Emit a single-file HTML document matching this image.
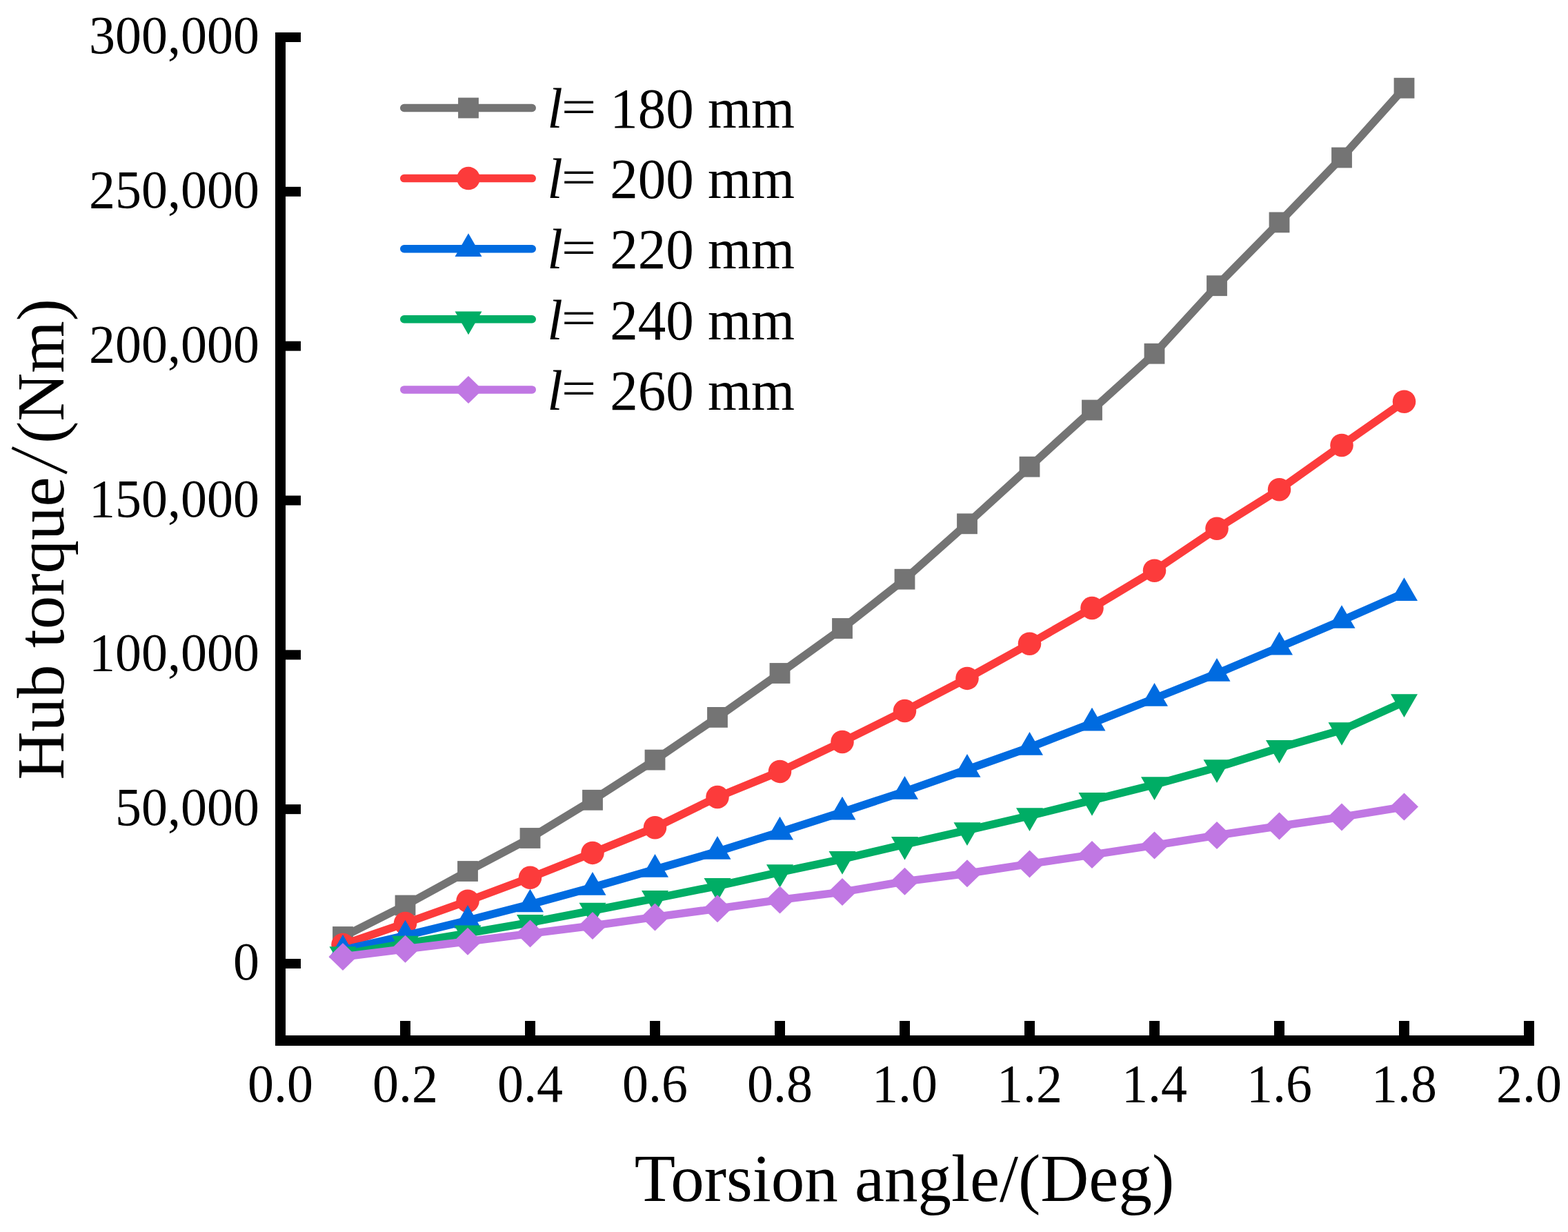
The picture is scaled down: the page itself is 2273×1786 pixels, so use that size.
<!DOCTYPE html>
<html><head><meta charset="utf-8"><title>Hub torque vs torsion angle</title>
<style>
html,body{margin:0;padding:0;background:#fff;}
body{width:2273px;height:1786px;overflow:hidden;}
svg{display:block;}
text{font-family:"Liberation Serif","Times New Roman",serif;fill:#000;}
.tk{font-size:76px;}
.lg{font-size:81px;}
.ttl{font-size:97px;}
</style></head>
<body>
<svg width="2273" height="1786" viewBox="0 0 2273 1786">
<rect width="2273" height="1786" fill="#fff"/>
<polyline points="497.00,1358.00 587.50,1312.50 678.00,1263.00 768.50,1215.00 859.00,1159.80 949.50,1101.60 1040.00,1039.90 1130.50,976.00 1221.00,911.00 1311.50,839.70 1402.00,759.30 1492.50,676.70 1583.00,594.50 1673.50,512.70 1764.00,414.20 1854.50,322.40 1945.00,228.50 2035.50,127.70" fill="none" stroke="#747474" stroke-width="11.5" stroke-linejoin="miter" stroke-linecap="butt"/>
<rect x="482.10" y="1343.10" width="29.8" height="29.8" fill="#747474"/>
<rect x="572.60" y="1297.60" width="29.8" height="29.8" fill="#747474"/>
<rect x="663.10" y="1248.10" width="29.8" height="29.8" fill="#747474"/>
<rect x="753.60" y="1200.10" width="29.8" height="29.8" fill="#747474"/>
<rect x="844.10" y="1144.90" width="29.8" height="29.8" fill="#747474"/>
<rect x="934.60" y="1086.70" width="29.8" height="29.8" fill="#747474"/>
<rect x="1025.10" y="1025.00" width="29.8" height="29.8" fill="#747474"/>
<rect x="1115.60" y="961.10" width="29.8" height="29.8" fill="#747474"/>
<rect x="1206.10" y="896.10" width="29.8" height="29.8" fill="#747474"/>
<rect x="1296.60" y="824.80" width="29.8" height="29.8" fill="#747474"/>
<rect x="1387.10" y="744.40" width="29.8" height="29.8" fill="#747474"/>
<rect x="1477.60" y="661.80" width="29.8" height="29.8" fill="#747474"/>
<rect x="1568.10" y="579.60" width="29.8" height="29.8" fill="#747474"/>
<rect x="1658.60" y="497.80" width="29.8" height="29.8" fill="#747474"/>
<rect x="1749.10" y="399.30" width="29.8" height="29.8" fill="#747474"/>
<rect x="1839.60" y="307.50" width="29.8" height="29.8" fill="#747474"/>
<rect x="1930.10" y="213.60" width="29.8" height="29.8" fill="#747474"/>
<rect x="2020.60" y="112.80" width="29.8" height="29.8" fill="#747474"/>
<polyline points="497.00,1369.40 587.50,1338.40 678.00,1306.20 768.50,1272.30 859.00,1236.40 949.50,1199.70 1040.00,1155.50 1130.50,1118.40 1221.00,1075.40 1311.50,1030.50 1402.00,983.40 1492.50,933.20 1583.00,881.50 1673.50,827.20 1764.00,766.30 1854.50,709.70 1945.00,645.40 2035.50,582.20" fill="none" stroke="#FC3B3B" stroke-width="11.5" stroke-linejoin="miter" stroke-linecap="butt"/>
<circle cx="497.00" cy="1369.40" r="16.75" fill="#FC3B3B"/>
<circle cx="587.50" cy="1338.40" r="16.75" fill="#FC3B3B"/>
<circle cx="678.00" cy="1306.20" r="16.75" fill="#FC3B3B"/>
<circle cx="768.50" cy="1272.30" r="16.75" fill="#FC3B3B"/>
<circle cx="859.00" cy="1236.40" r="16.75" fill="#FC3B3B"/>
<circle cx="949.50" cy="1199.70" r="16.75" fill="#FC3B3B"/>
<circle cx="1040.00" cy="1155.50" r="16.75" fill="#FC3B3B"/>
<circle cx="1130.50" cy="1118.40" r="16.75" fill="#FC3B3B"/>
<circle cx="1221.00" cy="1075.40" r="16.75" fill="#FC3B3B"/>
<circle cx="1311.50" cy="1030.50" r="16.75" fill="#FC3B3B"/>
<circle cx="1402.00" cy="983.40" r="16.75" fill="#FC3B3B"/>
<circle cx="1492.50" cy="933.20" r="16.75" fill="#FC3B3B"/>
<circle cx="1583.00" cy="881.50" r="16.75" fill="#FC3B3B"/>
<circle cx="1673.50" cy="827.20" r="16.75" fill="#FC3B3B"/>
<circle cx="1764.00" cy="766.30" r="16.75" fill="#FC3B3B"/>
<circle cx="1854.50" cy="709.70" r="16.75" fill="#FC3B3B"/>
<circle cx="1945.00" cy="645.40" r="16.75" fill="#FC3B3B"/>
<circle cx="2035.50" cy="582.20" r="16.75" fill="#FC3B3B"/>
<polyline points="497.00,1377.30 587.50,1356.30 678.00,1334.40 768.50,1311.10 859.00,1286.40 949.50,1260.40 1040.00,1234.40 1130.50,1206.20 1221.00,1177.20 1311.50,1147.40 1402.00,1115.50 1492.50,1083.50 1583.00,1048.30 1673.50,1012.50 1764.00,976.40 1854.50,938.30 1945.00,899.60 2035.50,859.70" fill="none" stroke="#006BE0" stroke-width="11.5" stroke-linejoin="miter" stroke-linecap="butt"/>
<polygon points="497.00,1354.83 516.50,1388.53 477.50,1388.53" fill="#006BE0"/>
<polygon points="587.50,1333.83 607.00,1367.53 568.00,1367.53" fill="#006BE0"/>
<polygon points="678.00,1311.93 697.50,1345.63 658.50,1345.63" fill="#006BE0"/>
<polygon points="768.50,1288.63 788.00,1322.33 749.00,1322.33" fill="#006BE0"/>
<polygon points="859.00,1263.93 878.50,1297.63 839.50,1297.63" fill="#006BE0"/>
<polygon points="949.50,1237.93 969.00,1271.63 930.00,1271.63" fill="#006BE0"/>
<polygon points="1040.00,1211.93 1059.50,1245.63 1020.50,1245.63" fill="#006BE0"/>
<polygon points="1130.50,1183.73 1150.00,1217.43 1111.00,1217.43" fill="#006BE0"/>
<polygon points="1221.00,1154.73 1240.50,1188.43 1201.50,1188.43" fill="#006BE0"/>
<polygon points="1311.50,1124.93 1331.00,1158.63 1292.00,1158.63" fill="#006BE0"/>
<polygon points="1402.00,1093.03 1421.50,1126.73 1382.50,1126.73" fill="#006BE0"/>
<polygon points="1492.50,1061.03 1512.00,1094.73 1473.00,1094.73" fill="#006BE0"/>
<polygon points="1583.00,1025.83 1602.50,1059.53 1563.50,1059.53" fill="#006BE0"/>
<polygon points="1673.50,990.03 1693.00,1023.73 1654.00,1023.73" fill="#006BE0"/>
<polygon points="1764.00,953.93 1783.50,987.63 1744.50,987.63" fill="#006BE0"/>
<polygon points="1854.50,915.83 1874.00,949.53 1835.00,949.53" fill="#006BE0"/>
<polygon points="1945.00,877.13 1964.50,910.83 1925.50,910.83" fill="#006BE0"/>
<polygon points="2035.50,837.23 2055.00,870.93 2016.00,870.93" fill="#006BE0"/>
<polyline points="497.00,1383.40 587.50,1368.00 678.00,1352.80 768.50,1337.30 859.00,1320.00 949.50,1302.30 1040.00,1284.30 1130.50,1264.40 1221.00,1245.30 1311.50,1224.20 1402.00,1203.60 1492.50,1182.60 1583.00,1160.20 1673.50,1137.50 1764.00,1112.50 1854.50,1084.20 1945.00,1058.40 2035.50,1017.50" fill="none" stroke="#00AD65" stroke-width="11.5" stroke-linejoin="miter" stroke-linecap="butt"/>
<polygon points="497.00,1405.87 516.50,1372.17 477.50,1372.17" fill="#00AD65"/>
<polygon points="587.50,1390.47 607.00,1356.77 568.00,1356.77" fill="#00AD65"/>
<polygon points="678.00,1375.27 697.50,1341.57 658.50,1341.57" fill="#00AD65"/>
<polygon points="768.50,1359.77 788.00,1326.07 749.00,1326.07" fill="#00AD65"/>
<polygon points="859.00,1342.47 878.50,1308.77 839.50,1308.77" fill="#00AD65"/>
<polygon points="949.50,1324.77 969.00,1291.07 930.00,1291.07" fill="#00AD65"/>
<polygon points="1040.00,1306.77 1059.50,1273.07 1020.50,1273.07" fill="#00AD65"/>
<polygon points="1130.50,1286.87 1150.00,1253.17 1111.00,1253.17" fill="#00AD65"/>
<polygon points="1221.00,1267.77 1240.50,1234.07 1201.50,1234.07" fill="#00AD65"/>
<polygon points="1311.50,1246.67 1331.00,1212.97 1292.00,1212.97" fill="#00AD65"/>
<polygon points="1402.00,1226.07 1421.50,1192.37 1382.50,1192.37" fill="#00AD65"/>
<polygon points="1492.50,1205.07 1512.00,1171.37 1473.00,1171.37" fill="#00AD65"/>
<polygon points="1583.00,1182.67 1602.50,1148.97 1563.50,1148.97" fill="#00AD65"/>
<polygon points="1673.50,1159.97 1693.00,1126.27 1654.00,1126.27" fill="#00AD65"/>
<polygon points="1764.00,1134.97 1783.50,1101.27 1744.50,1101.27" fill="#00AD65"/>
<polygon points="1854.50,1106.67 1874.00,1072.97 1835.00,1072.97" fill="#00AD65"/>
<polygon points="1945.00,1080.87 1964.50,1047.17 1925.50,1047.17" fill="#00AD65"/>
<polygon points="2035.50,1039.97 2055.00,1006.27 2016.00,1006.27" fill="#00AD65"/>
<polyline points="497.00,1387.00 587.50,1375.70 678.00,1364.80 768.50,1353.40 859.00,1342.00 949.50,1329.40 1040.00,1317.20 1130.50,1304.40 1221.00,1293.10 1311.50,1277.80 1402.00,1266.30 1492.50,1252.40 1583.00,1239.10 1673.50,1225.40 1764.00,1211.00 1854.50,1197.50 1945.00,1184.40 2035.50,1169.60" fill="none" stroke="#C077E3" stroke-width="11.5" stroke-linejoin="miter" stroke-linecap="butt"/>
<polygon points="497.00,1367.00 517.50,1387.00 497.00,1407.00 476.50,1387.00" fill="#C077E3"/>
<polygon points="587.50,1355.70 608.00,1375.70 587.50,1395.70 567.00,1375.70" fill="#C077E3"/>
<polygon points="678.00,1344.80 698.50,1364.80 678.00,1384.80 657.50,1364.80" fill="#C077E3"/>
<polygon points="768.50,1333.40 789.00,1353.40 768.50,1373.40 748.00,1353.40" fill="#C077E3"/>
<polygon points="859.00,1322.00 879.50,1342.00 859.00,1362.00 838.50,1342.00" fill="#C077E3"/>
<polygon points="949.50,1309.40 970.00,1329.40 949.50,1349.40 929.00,1329.40" fill="#C077E3"/>
<polygon points="1040.00,1297.20 1060.50,1317.20 1040.00,1337.20 1019.50,1317.20" fill="#C077E3"/>
<polygon points="1130.50,1284.40 1151.00,1304.40 1130.50,1324.40 1110.00,1304.40" fill="#C077E3"/>
<polygon points="1221.00,1273.10 1241.50,1293.10 1221.00,1313.10 1200.50,1293.10" fill="#C077E3"/>
<polygon points="1311.50,1257.80 1332.00,1277.80 1311.50,1297.80 1291.00,1277.80" fill="#C077E3"/>
<polygon points="1402.00,1246.30 1422.50,1266.30 1402.00,1286.30 1381.50,1266.30" fill="#C077E3"/>
<polygon points="1492.50,1232.40 1513.00,1252.40 1492.50,1272.40 1472.00,1252.40" fill="#C077E3"/>
<polygon points="1583.00,1219.10 1603.50,1239.10 1583.00,1259.10 1562.50,1239.10" fill="#C077E3"/>
<polygon points="1673.50,1205.40 1694.00,1225.40 1673.50,1245.40 1653.00,1225.40" fill="#C077E3"/>
<polygon points="1764.00,1191.00 1784.50,1211.00 1764.00,1231.00 1743.50,1211.00" fill="#C077E3"/>
<polygon points="1854.50,1177.50 1875.00,1197.50 1854.50,1217.50 1834.00,1197.50" fill="#C077E3"/>
<polygon points="1945.00,1164.40 1965.50,1184.40 1945.00,1204.40 1924.50,1184.40" fill="#C077E3"/>
<polygon points="2035.50,1149.60 2056.00,1169.60 2035.50,1189.60 2015.00,1169.60" fill="#C077E3"/>
<rect x="399" y="47" width="15" height="1469" fill="#000"/>
<rect x="399" y="1501" width="1825" height="15" fill="#000"/>
<rect x="414" y="47.00" width="22" height="14" fill="#000"/>
<rect x="414" y="270.83" width="22" height="14" fill="#000"/>
<rect x="414" y="494.66" width="22" height="14" fill="#000"/>
<rect x="414" y="718.49" width="22" height="14" fill="#000"/>
<rect x="414" y="942.32" width="22" height="14" fill="#000"/>
<rect x="414" y="1166.15" width="22" height="14" fill="#000"/>
<rect x="414" y="1389.98" width="22" height="14" fill="#000"/>
<rect x="580.00" y="1480" width="15" height="21" fill="#000"/>
<rect x="761.00" y="1480" width="15" height="21" fill="#000"/>
<rect x="942.00" y="1480" width="15" height="21" fill="#000"/>
<rect x="1123.00" y="1480" width="15" height="21" fill="#000"/>
<rect x="1304.00" y="1480" width="15" height="21" fill="#000"/>
<rect x="1485.00" y="1480" width="15" height="21" fill="#000"/>
<rect x="1666.00" y="1480" width="15" height="21" fill="#000"/>
<rect x="1847.00" y="1480" width="15" height="21" fill="#000"/>
<rect x="2028.00" y="1480" width="15" height="21" fill="#000"/>
<rect x="2209.00" y="1480" width="15" height="21" fill="#000"/>
<text transform="translate(375.9,77.0) scale(1,1.033)" text-anchor="end" class="tk">300,000</text>
<text transform="translate(375.9,300.8) scale(1,1.033)" text-anchor="end" class="tk">250,000</text>
<text transform="translate(375.9,524.7) scale(1,1.033)" text-anchor="end" class="tk">200,000</text>
<text transform="translate(375.9,748.5) scale(1,1.033)" text-anchor="end" class="tk">150,000</text>
<text transform="translate(375.9,972.3) scale(1,1.033)" text-anchor="end" class="tk">100,000</text>
<text transform="translate(375.9,1196.2) scale(1,1.033)" text-anchor="end" class="tk">50,000</text>
<text transform="translate(375.9,1420.0) scale(1,1.033)" text-anchor="end" class="tk">0</text>
<text transform="translate(406.5,1597) scale(1,1.033)" text-anchor="middle" class="tk">0.0</text>
<text transform="translate(587.5,1597) scale(1,1.033)" text-anchor="middle" class="tk">0.2</text>
<text transform="translate(768.5,1597) scale(1,1.033)" text-anchor="middle" class="tk">0.4</text>
<text transform="translate(949.5,1597) scale(1,1.033)" text-anchor="middle" class="tk">0.6</text>
<text transform="translate(1130.5,1597) scale(1,1.033)" text-anchor="middle" class="tk">0.8</text>
<text transform="translate(1311.5,1597) scale(1,1.033)" text-anchor="middle" class="tk">1.0</text>
<text transform="translate(1492.5,1597) scale(1,1.033)" text-anchor="middle" class="tk">1.2</text>
<text transform="translate(1673.5,1597) scale(1,1.033)" text-anchor="middle" class="tk">1.4</text>
<text transform="translate(1854.5,1597) scale(1,1.033)" text-anchor="middle" class="tk">1.6</text>
<text transform="translate(2035.5,1597) scale(1,1.033)" text-anchor="middle" class="tk">1.8</text>
<text transform="translate(2216.5,1597) scale(1,1.033)" text-anchor="middle" class="tk">2.0</text>
<line x1="585.75" y1="156.5" x2="771.25" y2="156.5" stroke="#747474" stroke-width="11.5" stroke-linecap="round"/>
<rect x="664.10" y="141.60" width="29.8" height="29.8" fill="#747474"/>
<text transform="translate(793.3,185.2) scale(1,1.028)" class="lg" font-style="italic">l</text>
<text transform="translate(839.1,178.5) scale(1.11,0.85)" text-anchor="middle" class="lg">=</text>
<text transform="translate(884.3,185.2) scale(1,1.028)" class="lg">180 mm</text>
<line x1="585.75" y1="258.6" x2="771.25" y2="258.6" stroke="#FC3B3B" stroke-width="11.5" stroke-linecap="round"/>
<circle cx="679.00" cy="258.60" r="16.75" fill="#FC3B3B"/>
<text transform="translate(793.3,287.3) scale(1,1.028)" class="lg" font-style="italic">l</text>
<text transform="translate(839.1,280.6) scale(1.11,0.85)" text-anchor="middle" class="lg">=</text>
<text transform="translate(884.3,287.3) scale(1,1.028)" class="lg">200 mm</text>
<line x1="585.75" y1="360.7" x2="771.25" y2="360.7" stroke="#006BE0" stroke-width="11.5" stroke-linecap="round"/>
<polygon points="679.00,338.23 698.50,371.93 659.50,371.93" fill="#006BE0"/>
<text transform="translate(793.3,389.4) scale(1,1.028)" class="lg" font-style="italic">l</text>
<text transform="translate(839.1,382.7) scale(1.11,0.85)" text-anchor="middle" class="lg">=</text>
<text transform="translate(884.3,389.4) scale(1,1.028)" class="lg">220 mm</text>
<line x1="585.75" y1="462.8" x2="771.25" y2="462.8" stroke="#00AD65" stroke-width="11.5" stroke-linecap="round"/>
<polygon points="679.00,485.27 698.50,451.57 659.50,451.57" fill="#00AD65"/>
<text transform="translate(793.3,491.5) scale(1,1.028)" class="lg" font-style="italic">l</text>
<text transform="translate(839.1,484.8) scale(1.11,0.85)" text-anchor="middle" class="lg">=</text>
<text transform="translate(884.3,491.5) scale(1,1.028)" class="lg">240 mm</text>
<line x1="585.75" y1="564.9" x2="771.25" y2="564.9" stroke="#C077E3" stroke-width="11.5" stroke-linecap="round"/>
<polygon points="679.00,544.90 699.50,564.90 679.00,584.90 658.50,564.90" fill="#C077E3"/>
<text transform="translate(793.3,593.6) scale(1,1.028)" class="lg" font-style="italic">l</text>
<text transform="translate(839.1,586.9) scale(1.11,0.85)" text-anchor="middle" class="lg">=</text>
<text transform="translate(884.3,593.6) scale(1,1.028)" class="lg">260 mm</text>
<text x="1311" y="1741" text-anchor="middle" class="ttl">Torsion angle/(Deg)</text>
<text transform="translate(92,1130.6) rotate(-90)" x="0" y="0" class="ttl">Hub torque<tspan font-family="IPAGothic, sans-serif" font-size="91" dx="1.5">/</tspan><tspan dx="1.5">(Nm)</tspan></text>
</svg>
</body></html>
